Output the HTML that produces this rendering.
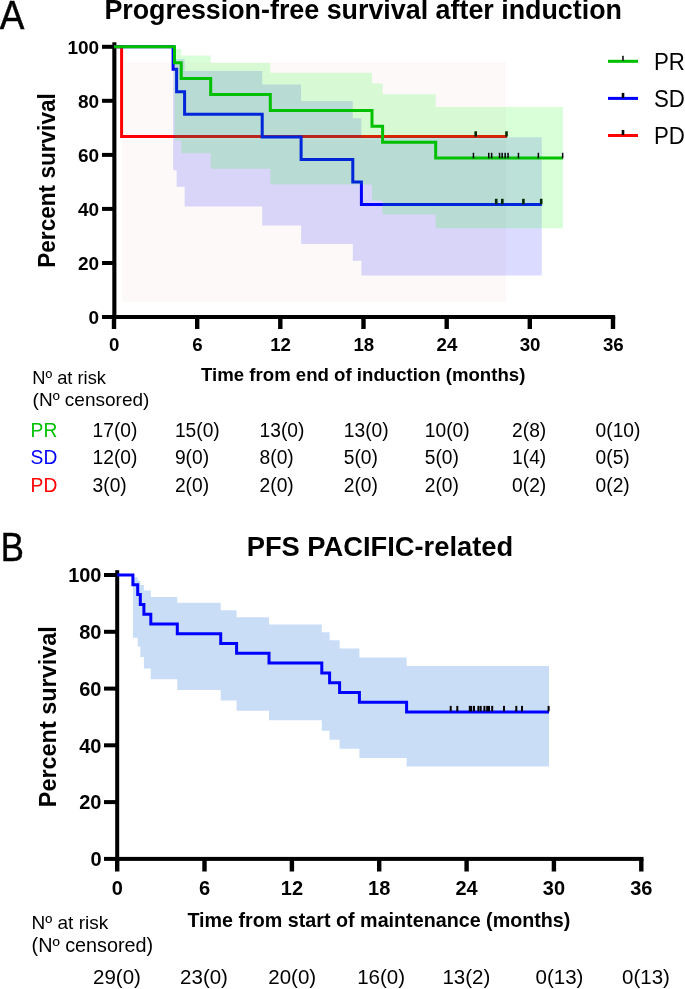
<!DOCTYPE html>
<html><head><meta charset="utf-8"><style>
html,body{margin:0;padding:0;background:#fff;width:685px;height:989px;overflow:hidden;}
body{position:relative;font-family:"Liberation Sans",sans-serif;}
svg{will-change:transform;}
</style></head><body>
<svg width="685" height="989" viewBox="0 0 685 989" style="position:absolute;left:0;top:0">
<g fill="#000">
<rect x="112.3" y="42.3" width="4.1" height="276.7"/>
<rect x="112" y="315" width="503.2" height="4"/>
<rect x="102" y="315.0" width="12" height="4"/>
<rect x="102" y="261.0" width="12" height="4"/>
<rect x="102" y="206.9" width="12" height="4"/>
<rect x="102" y="152.9" width="12" height="4"/>
<rect x="102" y="98.8" width="12" height="4"/>
<rect x="102" y="44.8" width="12" height="4"/>
<rect x="111.8" y="317" width="4.4" height="12"/>
<rect x="195.0" y="317" width="4.4" height="12"/>
<rect x="278.1" y="317" width="4.4" height="12"/>
<rect x="361.3" y="317" width="4.4" height="12"/>
<rect x="444.5" y="317" width="4.4" height="12"/>
<rect x="527.6" y="317" width="4.4" height="12"/>
<rect x="610.8" y="317" width="4.4" height="12"/>
</g>
<rect x="125.1" y="61.9" width="380.9" height="72.7" fill="#fdf9f9"/>
<rect x="122.1" y="140.0" width="383.9" height="162.0" fill="#fdf9f9"/>
<path d="M114.0,46.8 H121.6 V136.6 H507.0" fill="none" stroke="#ff0000" stroke-width="3" stroke-linecap="butt" stroke-linejoin="miter"/>
<rect x="474.4" y="131.3" width="2.6" height="5.3" fill="#000"/>
<rect x="505.2" y="131.3" width="2.6" height="5.3" fill="#000"/>
<path d="M173.1,59.1 L176.6,59.1 L176.6,59.1 L184.6,59.1 L184.6,71.1 L262.2,71.1 L262.2,84.5 L301.1,84.5 L301.1,101.0 L352.8,101.0 L352.8,118.2 L361.4,118.2 L361.4,137.2 L541.8,137.2 L541.8,275.6 L361.4,275.6 L361.4,260.8 L352.8,260.8 L352.8,243.9 L301.1,243.9 L301.1,225.4 L262.2,225.4 L262.2,206.5 L184.6,206.5 L184.6,186.7 L176.6,186.7 L176.6,170.2 L173.1,170.2 Z" fill="#0000ff" fill-opacity="0.143"/>
<path d="M114.0,46.8 H173.1 V69.3 H176.6 V91.8 H184.6 V114.3 H262.2 V136.9 H301.1 V159.4 H352.8 V181.9 H361.4 V204.4 H541.8" fill="none" stroke="#0000ff" stroke-width="3" stroke-linecap="butt" stroke-linejoin="miter"/>
<rect x="494.9" y="198.8" width="2.6" height="5.5" fill="#000"/>
<rect x="501.0" y="198.8" width="2.6" height="5.5" fill="#000"/>
<rect x="522.1" y="198.8" width="2.6" height="5.5" fill="#000"/>
<rect x="539.9" y="198.8" width="2.6" height="5.5" fill="#000"/>
<path d="M174.5,49.0 L181.2,49.0 L181.2,55.4 L210.7,55.4 L210.7,63.0 L270.3,63.0 L270.3,72.8 L372.0,72.8 L372.0,83.6 L382.6,83.6 L382.6,94.3 L435.7,94.3 L435.7,107.1 L563.0,107.1 L563.0,228.3 L435.7,228.3 L435.7,214.4 L382.6,214.4 L382.6,200.5 L372.0,200.5 L372.0,184.6 L270.3,184.6 L270.3,168.8 L210.7,168.8 L210.7,153.3 L181.2,153.3 L181.2,140.5 L174.5,140.5 Z" fill="#00ff00" fill-opacity="0.149"/>
<path d="M114.0,46.8 H174.5 V62.7 H181.2 V78.6 H210.7 V94.5 H270.3 V110.4 H372.0 V126.3 H382.6 V142.2 H435.7 V158.1 H563.0" fill="none" stroke="#00c000" stroke-width="3" stroke-linecap="butt" stroke-linejoin="miter"/>
<rect x="472.7" y="152.8" width="1.5" height="5.5" fill="#000"/>
<rect x="488.0" y="152.8" width="1.5" height="5.5" fill="#000"/>
<rect x="490.9" y="152.8" width="1.5" height="5.5" fill="#000"/>
<rect x="498.8" y="152.8" width="1.5" height="5.5" fill="#000"/>
<rect x="501.4" y="152.8" width="1.5" height="5.5" fill="#000"/>
<rect x="504.4" y="152.8" width="1.5" height="5.5" fill="#000"/>
<rect x="507.3" y="152.8" width="1.5" height="5.5" fill="#000"/>
<rect x="517.7" y="152.8" width="1.5" height="5.5" fill="#000"/>
<rect x="537.6" y="152.8" width="1.5" height="5.5" fill="#000"/>
<rect x="561.9" y="152.8" width="1.5" height="5.5" fill="#000"/>
<text transform="translate(-0.3,29.3) scale(0.9,1)" font-family="Liberation Sans, sans-serif" font-size="41" fill="#000" stroke="#000" stroke-width="0.5">A</text>
<text x="363.2" y="18.8" font-family="Liberation Sans, sans-serif" font-size="26.85" font-weight="bold" text-anchor="middle" fill="#000">Progression-free survival after induction</text>
<text transform="translate(55.1,180.5) rotate(-90) scale(1,1.08)" font-family="Liberation Sans, sans-serif" font-size="22.6" font-weight="bold" text-anchor="middle" fill="#000">Percent survival</text>
<text x="99.1" y="323.8" font-family="Liberation Sans, sans-serif" font-size="19" font-weight="bold" text-anchor="end" fill="#000">0</text>
<text x="99.1" y="269.8" font-family="Liberation Sans, sans-serif" font-size="19" font-weight="bold" text-anchor="end" fill="#000">20</text>
<text x="99.1" y="215.7" font-family="Liberation Sans, sans-serif" font-size="19" font-weight="bold" text-anchor="end" fill="#000">40</text>
<text x="99.1" y="161.7" font-family="Liberation Sans, sans-serif" font-size="19" font-weight="bold" text-anchor="end" fill="#000">60</text>
<text x="99.1" y="107.6" font-family="Liberation Sans, sans-serif" font-size="19" font-weight="bold" text-anchor="end" fill="#000">80</text>
<text x="99.1" y="53.6" font-family="Liberation Sans, sans-serif" font-size="19" font-weight="bold" text-anchor="end" fill="#000">100</text>
<text x="114.3" y="350.7" font-family="Liberation Sans, sans-serif" font-size="18.7" font-weight="bold" text-anchor="middle" fill="#000">0</text>
<text x="197.5" y="350.7" font-family="Liberation Sans, sans-serif" font-size="18.7" font-weight="bold" text-anchor="middle" fill="#000">6</text>
<text x="280.6" y="350.7" font-family="Liberation Sans, sans-serif" font-size="18.7" font-weight="bold" text-anchor="middle" fill="#000">12</text>
<text x="363.8" y="350.7" font-family="Liberation Sans, sans-serif" font-size="18.7" font-weight="bold" text-anchor="middle" fill="#000">18</text>
<text x="447.0" y="350.7" font-family="Liberation Sans, sans-serif" font-size="18.7" font-weight="bold" text-anchor="middle" fill="#000">24</text>
<text x="530.1" y="350.7" font-family="Liberation Sans, sans-serif" font-size="18.7" font-weight="bold" text-anchor="middle" fill="#000">30</text>
<text x="613.3" y="350.7" font-family="Liberation Sans, sans-serif" font-size="18.7" font-weight="bold" text-anchor="middle" fill="#000">36</text>
<text transform="translate(363.2,381.3) scale(1,1.03)" font-family="Liberation Sans, sans-serif" font-size="18.62" font-weight="bold" text-anchor="middle" fill="#000">Time from end of induction (months)</text>
<rect x="608" y="59.8" width="30" height="3" fill="#00c000"/>
<rect x="622.2" y="55.8" width="1.5" height="5" fill="#000"/>
<text transform="translate(654,69.9) scale(0.985,1.07)" font-family="Liberation Sans, sans-serif" font-size="22.6" fill="#000">PR</text>
<rect x="608" y="96.9" width="30" height="3" fill="#0000ff"/>
<rect x="621.7" y="92.9" width="2.6" height="5" fill="#000"/>
<text transform="translate(654,107.0) scale(0.985,1.07)" font-family="Liberation Sans, sans-serif" font-size="22.6" fill="#000">SD</text>
<rect x="608" y="134.0" width="30" height="3" fill="#ff0000"/>
<rect x="621.7" y="130.0" width="2.6" height="5" fill="#000"/>
<text transform="translate(654,144.1) scale(0.985,1.07)" font-family="Liberation Sans, sans-serif" font-size="22.6" fill="#000">PD</text>
<text transform="translate(32.2,383.8) scale(1,1.03)" font-family="Liberation Sans, sans-serif" font-size="18.3" fill="#000">Nº at risk</text>
<text transform="translate(32.6,405.5) scale(1,1.0)" font-family="Liberation Sans, sans-serif" font-size="19.0" fill="#000">(Nº censored)</text>
<text transform="translate(30.6,436.9) scale(1,1.05)" font-family="Liberation Sans, sans-serif" font-size="19.2" fill="#00c000">PR</text>
<text transform="translate(92.6,436.9) scale(1,1.03)" font-family="Liberation Sans, sans-serif" font-size="19.2" fill="#000">17(0)</text>
<text transform="translate(174.9,436.9) scale(1,1.03)" font-family="Liberation Sans, sans-serif" font-size="19.2" fill="#000">15(0)</text>
<text transform="translate(259.6,436.9) scale(1,1.03)" font-family="Liberation Sans, sans-serif" font-size="19.2" fill="#000">13(0)</text>
<text transform="translate(343.8,436.9) scale(1,1.03)" font-family="Liberation Sans, sans-serif" font-size="19.2" fill="#000">13(0)</text>
<text transform="translate(424.8,436.9) scale(1,1.03)" font-family="Liberation Sans, sans-serif" font-size="19.2" fill="#000">10(0)</text>
<text transform="translate(512.1,436.9) scale(1,1.03)" font-family="Liberation Sans, sans-serif" font-size="19.2" fill="#000">2(8)</text>
<text transform="translate(595.6,436.9) scale(1,1.03)" font-family="Liberation Sans, sans-serif" font-size="19.2" fill="#000">0(10)</text>
<text transform="translate(30.6,464.0) scale(1,1.05)" font-family="Liberation Sans, sans-serif" font-size="19.2" fill="#0000ff">SD</text>
<text transform="translate(92.6,464.0) scale(1,1.03)" font-family="Liberation Sans, sans-serif" font-size="19.2" fill="#000">12(0)</text>
<text transform="translate(174.9,464.0) scale(1,1.03)" font-family="Liberation Sans, sans-serif" font-size="19.2" fill="#000">9(0)</text>
<text transform="translate(259.6,464.0) scale(1,1.03)" font-family="Liberation Sans, sans-serif" font-size="19.2" fill="#000">8(0)</text>
<text transform="translate(343.8,464.0) scale(1,1.03)" font-family="Liberation Sans, sans-serif" font-size="19.2" fill="#000">5(0)</text>
<text transform="translate(424.8,464.0) scale(1,1.03)" font-family="Liberation Sans, sans-serif" font-size="19.2" fill="#000">5(0)</text>
<text transform="translate(512.1,464.0) scale(1,1.03)" font-family="Liberation Sans, sans-serif" font-size="19.2" fill="#000">1(4)</text>
<text transform="translate(595.6,464.0) scale(1,1.03)" font-family="Liberation Sans, sans-serif" font-size="19.2" fill="#000">0(5)</text>
<text transform="translate(30.6,492.0) scale(1,1.05)" font-family="Liberation Sans, sans-serif" font-size="19.2" fill="#ff0000">PD</text>
<text transform="translate(92.6,492.0) scale(1,1.03)" font-family="Liberation Sans, sans-serif" font-size="19.2" fill="#000">3(0)</text>
<text transform="translate(174.9,492.0) scale(1,1.03)" font-family="Liberation Sans, sans-serif" font-size="19.2" fill="#000">2(0)</text>
<text transform="translate(259.6,492.0) scale(1,1.03)" font-family="Liberation Sans, sans-serif" font-size="19.2" fill="#000">2(0)</text>
<text transform="translate(343.8,492.0) scale(1,1.03)" font-family="Liberation Sans, sans-serif" font-size="19.2" fill="#000">2(0)</text>
<text transform="translate(424.8,492.0) scale(1,1.03)" font-family="Liberation Sans, sans-serif" font-size="19.2" fill="#000">2(0)</text>
<text transform="translate(512.1,492.0) scale(1,1.03)" font-family="Liberation Sans, sans-serif" font-size="19.2" fill="#000">0(2)</text>
<text transform="translate(595.6,492.0) scale(1,1.03)" font-family="Liberation Sans, sans-serif" font-size="19.2" fill="#000">0(2)</text>
<g fill="#000">
<rect x="115.2" y="570.2" width="4" height="290.8"/>
<rect x="115.2" y="856.9" width="528.3" height="4"/>
<rect x="104" y="856.9" width="12" height="4"/>
<rect x="104" y="800.1" width="12" height="4"/>
<rect x="104" y="743.3" width="12" height="4"/>
<rect x="104" y="686.6" width="12" height="4"/>
<rect x="104" y="629.8" width="12" height="4"/>
<rect x="104" y="573.0" width="12" height="4"/>
<rect x="115.0" y="858.9" width="4.4" height="12.6"/>
<rect x="202.3" y="858.9" width="4.4" height="12.6"/>
<rect x="289.7" y="858.9" width="4.4" height="12.6"/>
<rect x="377.0" y="858.9" width="4.4" height="12.6"/>
<rect x="464.4" y="858.9" width="4.4" height="12.6"/>
<rect x="551.7" y="858.9" width="4.4" height="12.6"/>
<rect x="639.1" y="858.9" width="4.4" height="12.6"/>
</g>
<path d="M132.9,577.3 L137.7,577.3 L137.7,580.8 L140.3,580.8 L140.3,585.1 L143.9,585.1 L143.9,590.4 L150.8,590.4 L150.8,596.9 L177.3,596.9 L177.3,602.7 L220.7,602.7 L220.7,610.3 L236.6,610.3 L236.6,617.2 L269.0,617.2 L269.0,624.6 L321.8,624.6 L321.8,632.2 L329.6,632.2 L329.6,640.2 L339.6,640.2 L339.6,648.6 L359.4,648.6 L359.4,657.5 L406.6,657.5 L406.6,665.9 L549.0,665.9 L549.0,766.6 L406.6,766.6 L406.6,757.9 L359.4,757.9 L359.4,748.7 L339.6,748.7 L339.6,739.7 L329.6,739.7 L329.6,730.7 L321.8,730.7 L321.8,720.3 L269.0,720.3 L269.0,710.7 L236.6,710.7 L236.6,700.5 L220.7,700.5 L220.7,689.9 L177.3,689.9 L177.3,679.2 L150.8,679.2 L150.8,668.4 L143.9,668.4 L143.9,657.0 L140.3,657.0 L140.3,646.5 L137.7,646.5 L137.7,637.7 L132.9,637.7 Z" fill="#c9ddf7"/>
<path d="M117.2,575.0 H132.9 V584.8 H137.7 V594.6 H140.3 V604.4 H143.9 V614.2 H150.8 V623.9 H177.3 V633.7 H220.7 V643.5 H236.6 V653.3 H269.0 V663.1 H321.8 V672.9 H329.6 V682.7 H339.6 V692.5 H359.4 V702.3 H406.6 V712.1 H549.0" fill="none" stroke="#0000ff" stroke-width="3" stroke-linecap="butt" stroke-linejoin="miter"/>
<rect x="449.7" y="705.9" width="2" height="5.5" fill="#000"/>
<rect x="456.3" y="705.9" width="2" height="5.5" fill="#000"/>
<rect x="468.8" y="705.9" width="2" height="5.5" fill="#000"/>
<rect x="470.2" y="705.9" width="2" height="5.5" fill="#000"/>
<rect x="473.0" y="705.9" width="2" height="5.5" fill="#000"/>
<rect x="477.4" y="705.9" width="2" height="5.5" fill="#000"/>
<rect x="479.7" y="705.9" width="2" height="5.5" fill="#000"/>
<rect x="483.4" y="705.9" width="2" height="5.5" fill="#000"/>
<rect x="486.2" y="705.9" width="2" height="5.5" fill="#000"/>
<rect x="488.0" y="705.9" width="2" height="5.5" fill="#000"/>
<rect x="491.2" y="705.9" width="2" height="5.5" fill="#000"/>
<rect x="503.0" y="705.9" width="2" height="5.5" fill="#000"/>
<rect x="515.3" y="705.9" width="2" height="5.5" fill="#000"/>
<rect x="521.0" y="705.9" width="2" height="5.5" fill="#000"/>
<rect x="547.6" y="705.9" width="2" height="5.5" fill="#000"/>
<text transform="translate(0.8,560.8) scale(0.85,1)" font-family="Liberation Sans, sans-serif" font-size="40.8" fill="#000" stroke="#000" stroke-width="0.5">B</text>
<text x="379.9" y="555.7" font-family="Liberation Sans, sans-serif" font-size="27.3" font-weight="bold" text-anchor="middle" fill="#000">PFS PACIFIC-related</text>
<text transform="translate(55.5,716.7) rotate(-90) scale(1,1.04)" font-family="Liberation Sans, sans-serif" font-size="23.45" font-weight="bold" text-anchor="middle" fill="#000">Percent survival</text>
<text x="101.5" y="866.2" font-family="Liberation Sans, sans-serif" font-size="20" font-weight="bold" text-anchor="end" fill="#000">0</text>
<text x="101.5" y="809.4" font-family="Liberation Sans, sans-serif" font-size="20" font-weight="bold" text-anchor="end" fill="#000">20</text>
<text x="101.5" y="752.6" font-family="Liberation Sans, sans-serif" font-size="20" font-weight="bold" text-anchor="end" fill="#000">40</text>
<text x="101.5" y="695.9" font-family="Liberation Sans, sans-serif" font-size="20" font-weight="bold" text-anchor="end" fill="#000">60</text>
<text x="101.5" y="639.1" font-family="Liberation Sans, sans-serif" font-size="20" font-weight="bold" text-anchor="end" fill="#000">80</text>
<text x="101.5" y="582.3" font-family="Liberation Sans, sans-serif" font-size="20" font-weight="bold" text-anchor="end" fill="#000">100</text>
<text x="117.2" y="894.6" font-family="Liberation Sans, sans-serif" font-size="20" font-weight="bold" text-anchor="middle" fill="#000">0</text>
<text x="204.5" y="894.6" font-family="Liberation Sans, sans-serif" font-size="20" font-weight="bold" text-anchor="middle" fill="#000">6</text>
<text x="291.9" y="894.6" font-family="Liberation Sans, sans-serif" font-size="20" font-weight="bold" text-anchor="middle" fill="#000">12</text>
<text x="379.2" y="894.6" font-family="Liberation Sans, sans-serif" font-size="20" font-weight="bold" text-anchor="middle" fill="#000">18</text>
<text x="466.6" y="894.6" font-family="Liberation Sans, sans-serif" font-size="20" font-weight="bold" text-anchor="middle" fill="#000">24</text>
<text x="553.9" y="894.6" font-family="Liberation Sans, sans-serif" font-size="20" font-weight="bold" text-anchor="middle" fill="#000">30</text>
<text x="641.3" y="894.6" font-family="Liberation Sans, sans-serif" font-size="20" font-weight="bold" text-anchor="middle" fill="#000">36</text>
<text transform="translate(378.9,926.5) scale(1,1.04)" font-family="Liberation Sans, sans-serif" font-size="19.72" font-weight="bold" text-anchor="middle" fill="#000">Time from start of maintenance (months)</text>
<text x="31.6" y="929.3" font-family="Liberation Sans, sans-serif" font-size="19" fill="#000">Nº at risk</text>
<text x="31.6" y="952.1" font-family="Liberation Sans, sans-serif" font-size="19.8" fill="#000">(Nº censored)</text>
<text x="93.0" y="984.3" font-family="Liberation Sans, sans-serif" font-size="20.5" fill="#000">29(0)</text>
<text x="180.1" y="984.3" font-family="Liberation Sans, sans-serif" font-size="20.5" fill="#000">23(0)</text>
<text x="268.3" y="984.3" font-family="Liberation Sans, sans-serif" font-size="20.5" fill="#000">20(0)</text>
<text x="357.2" y="984.3" font-family="Liberation Sans, sans-serif" font-size="20.5" fill="#000">16(0)</text>
<text x="442.4" y="984.3" font-family="Liberation Sans, sans-serif" font-size="20.5" fill="#000">13(2)</text>
<text x="535.6" y="984.3" font-family="Liberation Sans, sans-serif" font-size="20.5" fill="#000">0(13)</text>
<text x="622.0" y="984.3" font-family="Liberation Sans, sans-serif" font-size="20.5" fill="#000">0(13)</text>
</svg>
</body></html>
